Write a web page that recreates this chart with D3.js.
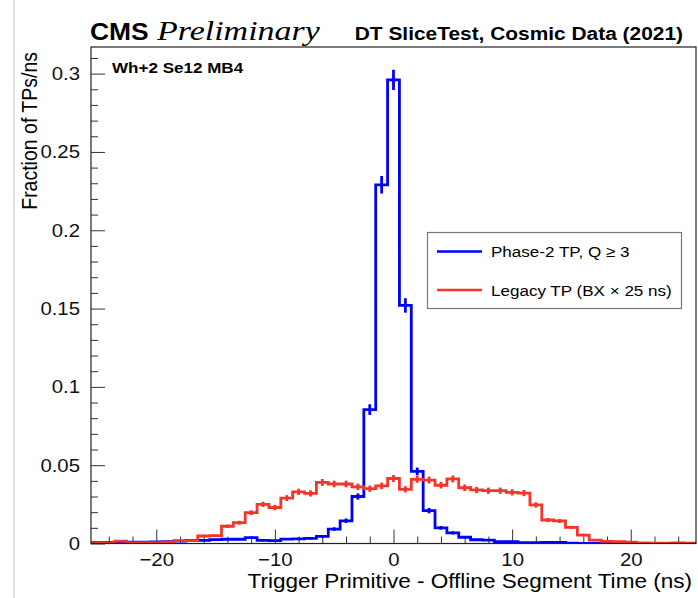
<!DOCTYPE html>
<html>
<head>
<meta charset="utf-8">
<script src="https://cdn.jsdelivr.net/npm/d3@7/dist/d3.min.js"></script>
<style>
  body { margin: 0; background: #fff; }
  svg { display: block; }
</style>
</head>
<body>
<div id="chart"></div>
<script>
// bins are 1 ns wide, centred on the integers
const binCenters = [-25, -24, -23, -22, -21, -20, -19, -18, -17, -16, -15, -14, -13, -12, -11, -10, -9, -8, -7, -6, -5, -4, -3, -2, -1,
  0, 1, 2, 3, 4, 5, 6, 7, 8, 9, 10, 11, 12, 13, 14, 15, 16, 17, 18, 19, 20, 21, 22, 23, 24, 25];
const binWidth = 1;

const phase2Values = [0.0005, 0.0005, 0.0005, 0.0008, 0.0008, 0.0010, 0.0012, 0.0015, 0.0020, 0.0020, 0.0025, 0.0027, 0.0027, 0.0037, 0.0020, 0.0018, 0.0028, 0.0030, 0.0033, 0.0045, 0.0092, 0.0145, 0.0300, 0.0855, 0.2290,
  0.2960, 0.1520, 0.0460, 0.0210, 0.0100, 0.0068, 0.0040, 0.0024, 0.0022, 0.0012, 0.0012, 0.0006, 0.0006, 0.0007, 0.0007, 0.0002, 0.0001, 0.0001, 0.0003, 0.0003, 0.0002, 0.0001, 0.0001, 0.0000, 0.0003, 0.0000];
const phase2Errors = [0.0003, 0.0003, 0.0003, 0.0003, 0.0003, 0.0004, 0.0004, 0.0005, 0.0005, 0.0005, 0.0006, 0.0006, 0.0006, 0.0007, 0.0005, 0.0005, 0.0006, 0.0006, 0.0007, 0.0008, 0.0011, 0.0014, 0.0020, 0.0034, 0.0056,
  0.0064, 0.0046, 0.0025, 0.0017, 0.0012, 0.0010, 0.0007, 0.0006, 0.0005, 0.0004, 0.0004, 0.0003, 0.0003, 0.0003, 0.0003, 0.0002, 0.0001, 0.0001, 0.0002, 0.0002, 0.0002, 0.0001, 0.0001, 0.0000, 0.0002, 0.0000];

const legacyValues = [0.0002, 0.0000, 0.0015, 0.0006, 0.0006, 0.0006, 0.0008, 0.0018, 0.0018, 0.0048, 0.0050, 0.0110, 0.0133, 0.0197, 0.0250, 0.0230, 0.0290, 0.0330, 0.0320, 0.0390, 0.0380, 0.0380, 0.0362, 0.0350, 0.0368,
  0.0415, 0.0346, 0.0410, 0.0405, 0.0372, 0.0412, 0.0356, 0.0342, 0.0337, 0.0337, 0.0327, 0.0322, 0.0246, 0.0150, 0.0144, 0.0103, 0.0054, 0.0022, 0.0014, 0.0012, 0.0008, 0.0004, 0.0003, 0.0003, 0.0002, 0.0002];
const legacyErrors = [0.0002, 0.0000, 0.0004, 0.0003, 0.0003, 0.0003, 0.0003, 0.0005, 0.0005, 0.0008, 0.0008, 0.0011, 0.0013, 0.0015, 0.0017, 0.0017, 0.0019, 0.0020, 0.0020, 0.0022, 0.0021, 0.0021, 0.0021, 0.0020, 0.0021,
  0.0022, 0.0020, 0.0022, 0.0022, 0.0021, 0.0022, 0.0021, 0.0020, 0.0020, 0.0020, 0.0020, 0.0020, 0.0017, 0.0013, 0.0013, 0.0011, 0.0008, 0.0005, 0.0004, 0.0004, 0.0003, 0.0002, 0.0002, 0.0002, 0.0002, 0.0002];

const xRange = [-25.5, 25.5];
const yRange = [0, 0.317];
const xMajorTicks = [-20, -10, 0, 10, 20];
const xMinorTicks = [-24, -22, -18, -16, -14, -12, -8, -6, -4, -2, 2, 4, 6, 8, 12, 14, 16, 18, 22, 24];
const yMajorTicks = [0, 0.05, 0.1, 0.15, 0.2, 0.25, 0.3];
const yMinorTicks = [0.01, 0.02, 0.03, 0.04, 0.06, 0.07, 0.08, 0.09, 0.11, 0.12, 0.13, 0.14, 0.16, 0.17, 0.18, 0.19,
  0.21, 0.22, 0.23, 0.24, 0.26, 0.27, 0.28, 0.29, 0.31];
const yTickLabels = ['0', '0.05', '0.1', '0.15', '0.2', '0.25', '0.3'];

const series = [
  {name: 'Phase-2 TP, Q \u2265 3', values: phase2Values, errors: phase2Errors, color: '#0000ff'},
  {name: 'Legacy TP (BX \u00d7 25 ns)', values: legacyValues, errors: legacyErrors, color: '#f5352a'}
];

const width = 698, height = 598;
const frame = {left: 91, right: 696, top: 47, bottom: 543.5};
const font = '"Liberation Sans", Arial, Helvetica, sans-serif';
const stretch = 1.1; // text in the picture is a little wide

const svg = d3.select('#chart').append('svg')
  .attr('width', width)
  .attr('height', height);

// thin grey border line at the far left of the picture
svg.append('line')
  .attr('x1', 14).attr('x2', 14).attr('y1', 0).attr('y2', height)
  .attr('stroke', '#c8c8c8').attr('stroke-width', 1);

const x = d3.scaleLinear().domain(xRange).range([frame.left, frame.right]);
const y = d3.scaleLinear().domain(yRange).range([frame.bottom, frame.top]);

svg.append('defs').append('clipPath').attr('id', 'plotClip')
  .append('rect')
  .attr('x', frame.left).attr('y', frame.top - 10)
  .attr('width', frame.right - frame.left).attr('height', frame.bottom - frame.top + 10);

// axes, ticks inside the frame
const xMinor = svg.append('g')
  .attr('transform', `translate(0,${frame.bottom})`)
  .call(d3.axisBottom(x).tickValues(xMinorTicks).tickSize(-7).tickFormat(''));
const xMajor = svg.append('g')
  .attr('transform', `translate(0,${frame.bottom})`)
  .call(d3.axisBottom(x).tickValues(xMajorTicks).tickSize(-14).tickPadding(9.5));
const yMinor = svg.append('g')
  .attr('transform', `translate(${frame.left},0)`)
  .call(d3.axisLeft(y).tickValues(yMinorTicks).tickSize(-7).tickFormat(''));
const yMajor = svg.append('g')
  .attr('transform', `translate(${frame.left},0)`)
  .call(d3.axisLeft(y).tickValues(yMajorTicks).tickSize(-14).tickPadding(10)
    .tickFormat((d, i) => yTickLabels[i]));

[xMinor, xMajor, yMinor, yMajor].forEach(g => {
  g.select('.domain').remove();
  g.selectAll('line').attr('stroke', '#333');
  g.selectAll('text')
    .attr('font-family', font)
    .attr('font-size', 18.5)
    .attr('fill', '#111')
    .attr('transform', `scale(${stretch},1)`);
});

// histograms
const plot = svg.append('g').attr('clip-path', 'url(#plotClip)');
const step = d3.line().curve(d3.curveStepAfter).x(d => x(d[0])).y(d => y(d[1]));

series.forEach(s => {
  const pts = binCenters.map((c, i) => [c - binWidth / 2, s.values[i]]);
  pts.push([binCenters[binCenters.length - 1] + binWidth / 2, s.values[s.values.length - 1]]);
  plot.append('path')
    .attr('d', step(pts))
    .attr('fill', 'none')
    .attr('stroke', s.color)
    .attr('stroke-width', 2.8);
  plot.append('g')
    .selectAll('line')
    .data(binCenters)
    .enter().append('line')
    .attr('x1', d => x(d)).attr('x2', d => x(d))
    .attr('y1', (d, i) => y(s.values[i] - s.errors[i]))
    .attr('y2', (d, i) => y(s.values[i] + s.errors[i]))
    .attr('stroke', s.color)
    .attr('stroke-width', 2.8);
});

// frame
svg.append('rect')
  .attr('x', frame.left).attr('y', frame.top)
  .attr('width', frame.right - frame.left).attr('height', frame.bottom - frame.top)
  .attr('fill', 'none').attr('stroke', '#222').attr('stroke-width', 1.2);

function label(txt, px, py, size, opts = {}) {
  const t = svg.append('text')
    .attr('transform', `translate(${px},${py}) scale(${stretch},1)` + (opts.rotate ? ` rotate(${opts.rotate})` : ''))
    .attr('font-family', opts.family || font)
    .attr('font-size', size)
    .attr('font-weight', opts.weight || 'normal')
    .attr('font-style', opts.style || 'normal')
    .attr('text-anchor', opts.anchor || 'start')
    .attr('fill', '#000')
    .text(txt);
  if (opts.length) t.attr('textLength', opts.length).attr('lengthAdjust', 'spacingAndGlyphs');
  return t;
}

label('CMS', 90, 40, 24, {weight: 'bold'});
label('Preliminary', 157, 40, 27, {style: 'italic', family: '"Liberation Serif", "Times New Roman", serif', length: 148});
label('DT SliceTest, Cosmic Data (2021)', 683, 40, 19, {weight: 'bold', anchor: 'end'});
label('Wh+2 Se12 MB4', 112, 73, 15.5, {weight: 'bold'});
label('Fraction of TPs/ns', 37, 52, 19.5, {anchor: 'end', rotate: -90});
label('Trigger Primitive - Offline Segment Time (ns)', 692, 588, 20.5, {anchor: 'end'});

// legend
const legend = svg.append('g');
legend.append('rect')
  .attr('x', 427.5).attr('y', 232.5).attr('width', 254).attr('height', 76)
  .attr('fill', '#fff').attr('stroke', '#777').attr('stroke-width', 1.2);
const legendRows = [251.5, 290];
series.forEach((s, i) => {
  legend.append('line')
    .attr('x1', 437).attr('x2', 482)
    .attr('y1', legendRows[i]).attr('y2', legendRows[i])
    .attr('stroke', s.color).attr('stroke-width', 2.5);
  label(s.name, 491, legendRows[i] + 5.5, 15.5);
});
</script>
</body>
</html>
